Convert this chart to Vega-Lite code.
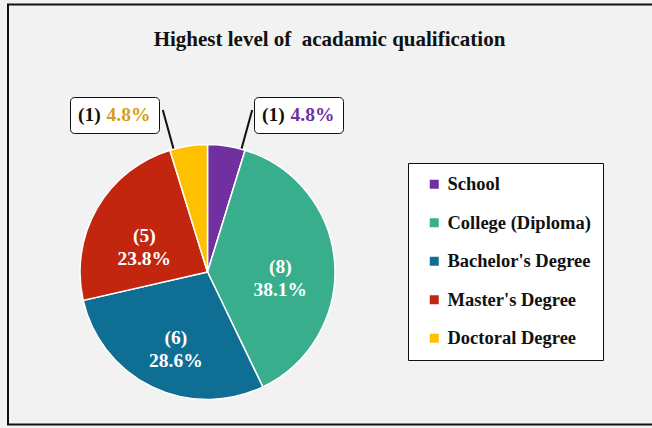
{
  "$schema": "https://vega.github.io/schema/vega-lite/v6.json",
  "width": 255,
  "height": 256,
  "autosize": {"type": "none"},
  "padding": {"left": 80, "top": 144, "right": 317, "bottom": 28},
  "background": "#f2f2f2",
  "title": {
    "text": "Highest level of \u00a0acadamic qualification",
    "font": "Liberation Serif",
    "fontSize": 21,
    "fontWeight": "bold",
    "color": "#111111",
    "anchor": "middle",
    "frame": "group",
    "dx": 122,
    "dy": 67,
    "baseline": "alphabetic"
  },
  "data": {
    "values": [
      {"level": "School", "count": 1, "pct": "4.8%", "idx": 1},
      {"level": "College (Diploma)", "count": 8, "pct": "38.1%", "idx": 2},
      {"level": "Bachelor's Degree", "count": 6, "pct": "28.6%", "idx": 3},
      {"level": "Master's Degree", "count": 5, "pct": "23.8%", "idx": 4},
      {"level": "Doctoral Degree", "count": 1, "pct": "4.8%", "idx": 5}
    ]
  },
  "transform": [
    {"window": [{"op": "sum", "field": "count", "as": "cum"}], "sort": [{"field": "idx"}]},
    {"joinaggregate": [{"op": "sum", "field": "count", "as": "total"}]},
    {"calculate": "(datum.cum - datum.count / 2) / datum.total", "as": "mid"},
    {"calculate": "datum.idx == 1 ? (datum.cum - 0.1 * datum.count) / datum.total : (datum.cum - 0.9 * datum.count) / datum.total", "as": "lead"},
    {"calculate": "'(' + datum.count + ')\\n' + datum.pct", "as": "label"}
  ],
  "layer": [
    {
      "mark": {"type": "point", "opacity": 0},
      "encoding": {
        "stroke": {
          "field": "count",
          "type": "quantitative",
          "scale": {"range": ["#111111", "#111111"]},
          "legend": {
            "title": null,
            "orient": "none",
            "direction": "vertical",
            "legendX": -72,
            "legendY": -139.5,
            "gradientLength": 420,
            "gradientThickness": 720,
            "labelFontSize": 1,
            "labelOffset": 0,
            "labelOpacity": 0,
            "padding": 0,
            "strokeColor": "#111111",
            "encode": {
              "legend": {"update": {"strokeWidth": {"value": 2}}},
              "gradient": {"update": {"opacity": {"value": 0}}},
              "labels": {"update": {"opacity": {"value": 0}}}
            }
          }
        }
      }
    },
    {
      "mark": {"type": "arc", "stroke": "#ffffff", "strokeWidth": 1.5},
      "encoding": {
        "theta": {"field": "count", "type": "quantitative", "stack": true},
        "order": {"field": "idx", "type": "quantitative"},
        "color": {
          "field": "level",
          "type": "nominal",
          "scale": {
            "domain": ["School", "College (Diploma)", "Bachelor's Degree", "Master's Degree", "Doctoral Degree"],
            "range": ["#7030a0", "#39ae8d", "#0f6e93", "#c3260f", "#ffc000"]
          },
          "legend": {
            "title": null,
            "orient": "none",
            "legendX": 328,
            "legendY": 19,
            "symbolType": "square",
            "symbolSize": 81,
            "symbolStrokeWidth": 0,
            "symbolOffset": 5,
            "labelFont": "Liberation Serif",
            "labelFontSize": 18.5,
            "labelFontWeight": "bold",
            "labelColor": "#111111",
            "labelOffset": 4,
            "labelLimit": 300,
            "rowPadding": 19.5,
            "padding": 12,
            "strokeColor": "#111111",
            "fillColor": "#ffffff",
            "encode": {"legend": {"update": {"strokeWidth": {"value": 2}}}}
          }
        }
      }
    },
    {
      "transform": [{"filter": "datum.count > 1"}],
      "mark": {"type": "text", "font": "Liberation Serif", "fontSize": 19.5, "fontWeight": "bold", "color": "#ffffff", "lineBreak": "\n", "lineHeight": 23, "baseline": "middle", "align": "center"},
      "encoding": {
        "theta": {"field": "mid", "type": "quantitative", "scale": {"domain": [0, 1]}},
        "radius": {"value": 73},
        "text": {"field": "label", "type": "nominal"}
      }
    },
    {
      "transform": [{"filter": "datum.count == 1"}],
      "mark": {"type": "arc", "stroke": "#111111", "strokeWidth": 2, "strokeJoin": "bevel", "strokeCap": "butt", "fill": null},
      "encoding": {
        "theta": {"field": "lead", "type": "quantitative", "scale": {"domain": [0, 1]}},
        "theta2": {"field": "lead"},
        "radius": {"value": 168},
        "radius2": {"value": 128}
      }
    },
    {
      "transform": [{"filter": "datum.level == 'Doctoral Degree'"}],
      "mark": {"type": "point", "opacity": 0},
      "encoding": {
        "shape": {
          "field": "pct",
          "type": "nominal",
          "legend": {
            "title": "(1)",
            "orient": "none",
            "legendX": -10,
            "legendY": -47,
            "titleOrient": "left",
            "titleFont": "Liberation Serif",
            "titleFontSize": 19.5,
            "titleFontWeight": "bold",
            "titleColor": "#111111",
            "titlePadding": -14,
            "labelFont": "Liberation Serif",
            "labelFontSize": 19.5,
            "labelFontWeight": "bold",
            "labelColor": "#d4a017",
            "labelOffset": 0,
            "symbolSize": 0,
            "symbolOpacity": 0,
            "padding": 8,
            "cornerRadius": 4,
            "strokeColor": "#111111",
            "fillColor": "#ffffff",
            "encode": {"legend": {"update": {"strokeWidth": {"value": 2}}}}
          }
        }
      }
    },
    {
      "transform": [{"filter": "datum.level == 'School'"}],
      "mark": {"type": "point", "opacity": 0},
      "encoding": {
        "strokeDash": {
          "field": "pct",
          "type": "nominal",
          "legend": {
            "title": "(1)",
            "orient": "none",
            "legendX": 174,
            "legendY": -47,
            "titleOrient": "left",
            "titleFont": "Liberation Serif",
            "titleFontSize": 19.5,
            "titleFontWeight": "bold",
            "titleColor": "#111111",
            "titlePadding": -14,
            "labelFont": "Liberation Serif",
            "labelFontSize": 19.5,
            "labelFontWeight": "bold",
            "labelColor": "#7030a0",
            "labelOffset": 0,
            "symbolSize": 0,
            "symbolOpacity": 0,
            "symbolStrokeWidth": 0,
            "padding": 8,
            "cornerRadius": 4,
            "strokeColor": "#111111",
            "fillColor": "#ffffff",
            "encode": {"legend": {"update": {"strokeWidth": {"value": 2}}}}
          }
        }
      }
    }
  ],
  "resolve": {"scale": {"theta": "independent"}},
  "config": {"view": {"stroke": null}}
}
